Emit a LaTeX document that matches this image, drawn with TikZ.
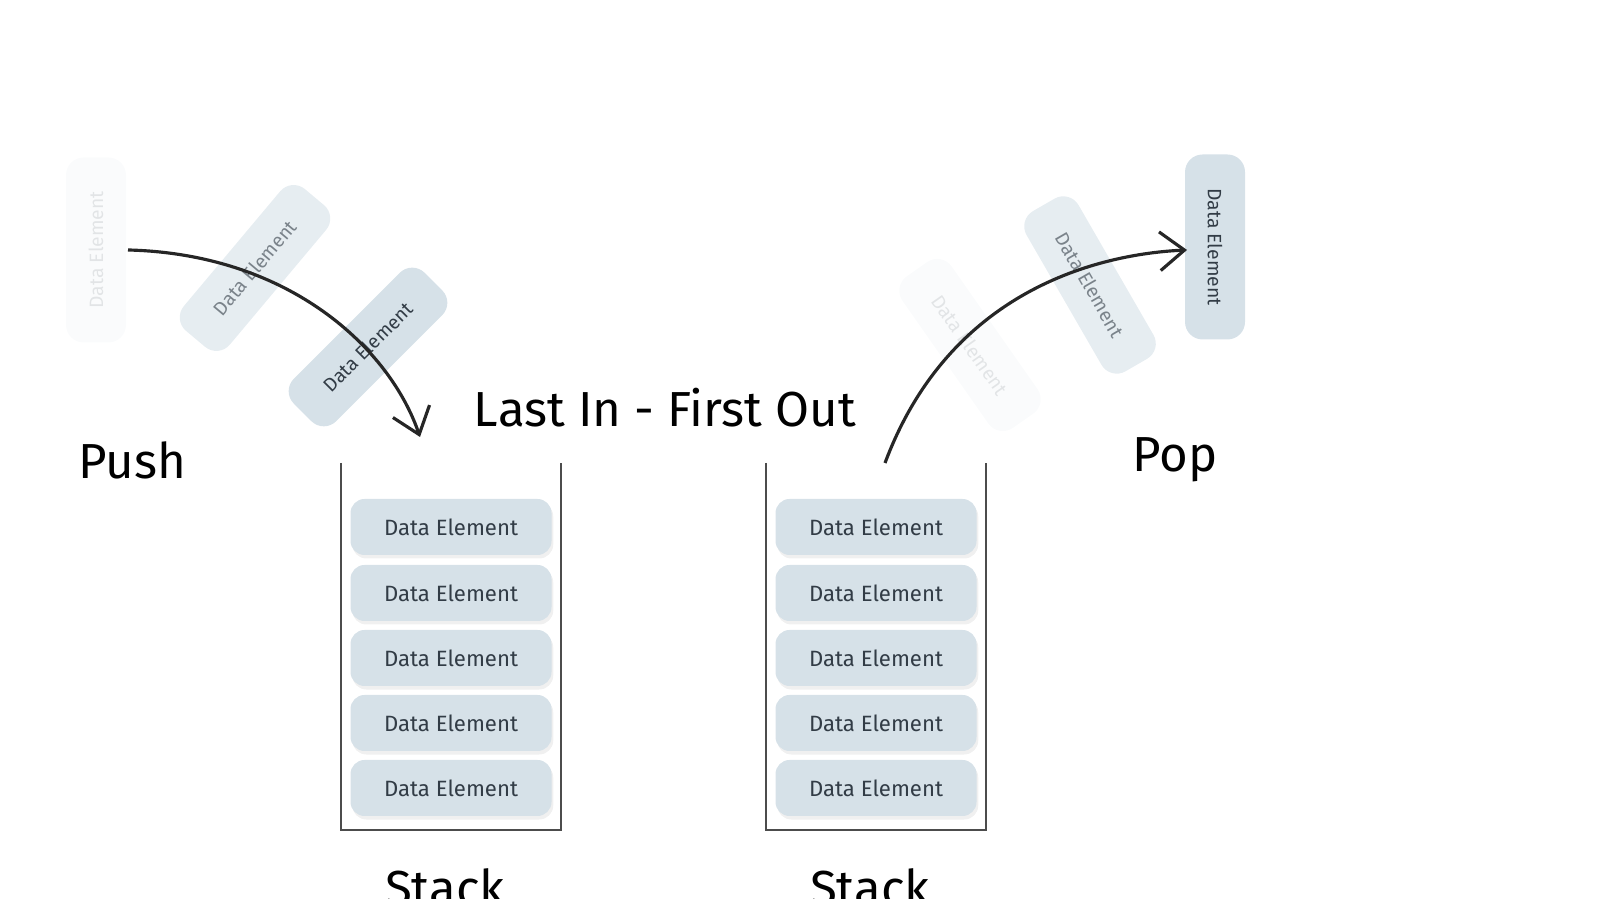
\documentclass[tikz,border=0pt]{standalone}
\usepackage{fontspec}
\setmainfont{Fira Sans}
\usetikzlibrary{positioning,shadows,arrows.meta}
\definecolor{elemfill}{RGB}{214,225,232}
\definecolor{elemtext}{RGB}{50,60,70}
\tikzset{>=stealth,
  elem/.style={rounded corners=4pt, fill=elemfill, minimum width=2.01cm, minimum height=0.56cm,
    text=elemtext, font=\fontsize{6.3}{7}\selectfont,
    drop shadow={opacity=0.12, shadow xshift=0.5pt, shadow yshift=-1pt}},
  fly/.style={rounded corners=5pt, fill=elemfill, minimum width=1.85cm, minimum height=0.6cm,
    text=elemtext, font=\fontsize{5.5}{6}\selectfont},
  wall/.style={draw=black!70, line width=0.8pt},
  big/.style={font=\fontsize{14}{16}\selectfont}}

\begin{document}
\begin{tikzpicture}
    \useasboundingbox (0,0) rectangle (16,8.99);
    % stacks
    \foreach \sx/\nm in {4.51/L, 8.76/R}{
      \draw[wall] (\sx-1.1,4.36) -- (\sx-1.1,0.69) -- (\sx+1.1,0.69) -- (\sx+1.1,4.36);
      \foreach \yy [count=\i] in {3.72,3.06,2.41,1.76,1.11}
        \node[elem] (\nm\i) at (\sx,\yy) {Data Element};
      \node[big] (stack\nm) at (\sx-0.06,0.12) {Stack};
    }
    % pushed elements
    \node[fly, rotate=90, opacity=0.12] (p1) at (0.96,6.49) {Data Element};
    \node[fly, rotate=50, opacity=0.6] (p2) at (2.55,6.31) {Data Element};
    \node[fly, rotate=45] (p3) at (3.68,5.52) {Data Element};
    % popped elements
    \node[fly, rotate=-90] (q1) at (12.15,6.52) {Data Element};
    \node[fly, rotate=-60, opacity=0.6] (q2) at (10.9,6.14) {Data Element};
    \node[fly, rotate=-55, opacity=0.12] (q3) at (9.7,5.54) {Data Element};
    % labels
    \node[big] (title) at (6.65,4.91) {Last In - First Out};
    \node[big] (push) at (1.32,4.39) {Push};
    \node[big] (pop) at (11.75,4.39) {Pop};
    % arrows
    \coordinate (pushs) at (1.28,6.49);
    \coordinate (pushe) at (4.2,4.62);
    \coordinate (pops) at (8.85,4.36);
    \coordinate (pope) at (11.87,6.49);
    \draw[-{Straight Barb[length=7pt,width=11pt]}, line width=0.9pt, black!85]
      (pushs) .. controls (2.9,6.45) and (3.9,5.5) .. (pushe);
    \draw[-{Straight Barb[length=7pt,width=11pt]}, line width=0.9pt, black!85]
      (pops) .. controls (9.5,6.1) and (11.0,6.45) .. (pope);
\end{tikzpicture}
\end{document}
